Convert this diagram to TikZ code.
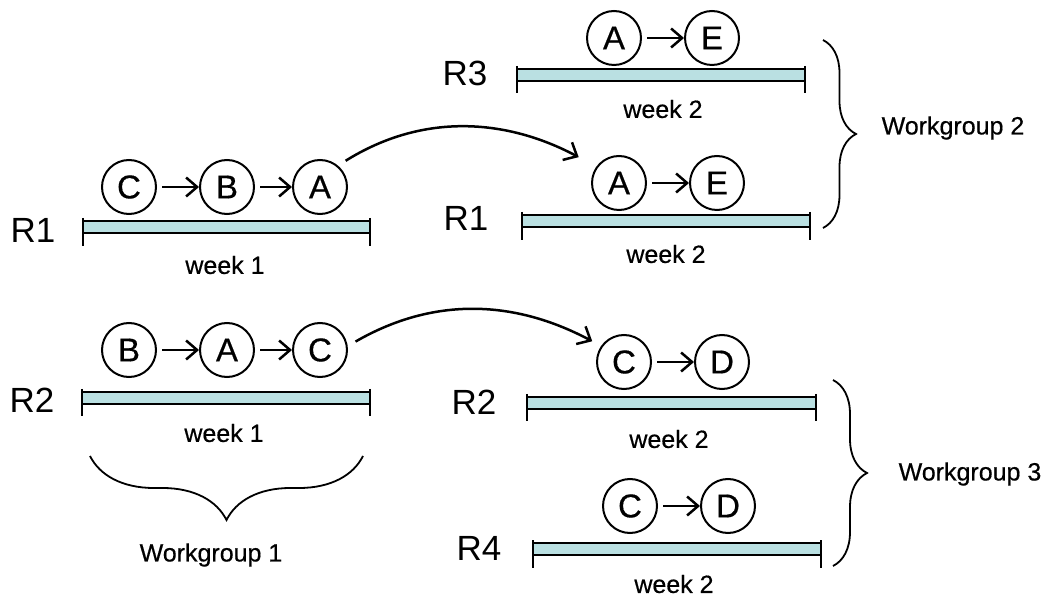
\documentclass[tikz,border=0pt]{standalone}
\usepackage{fontspec}
\setmainfont{Liberation Sans}
\newfontfamily\heavysans{Liberation Sans}[FakeBold=0.5]
\usetikzlibrary{arrows.meta,decorations.pathreplacing}
\definecolor{barblue}{RGB}{186,224,226}
\begin{document}
\begin{tikzpicture}[x=1pt,y=-1pt,
    job/.style={draw,circle,line width=2pt,minimum size=54pt,inner sep=0pt,
      font=\heavysans\fontsize{33}{34}\selectfont},
    res/.style={font=\fontsize{35}{36}\selectfont},
    lbl/.style={font=\heavysans\fontsize{25}{26}\selectfont},
    bar/.style={draw,line width=2.4pt,fill=barblue},
    tick/.style={line width=2.4pt},
    nxt/.style={-{Straight Barb[length=11pt,width=19pt,line width=2.5pt]},line width=2.5pt,shorten <=5pt},
    mv/.style={-{Straight Barb[length=11pt,width=20pt,line width=2.5pt]},line width=2.5pt},
    brc/.style={decorate,decoration={brace,amplitude=#1},line width=1.8pt}]
  \useasboundingbox (0,0) rectangle (1047,601);
  % week 1, R1
  \draw[bar] (83,221) rectangle (370,233);
  \draw[tick] (83,218)--(83,246) (370,218)--(370,246);
  \node[res] (r1l) at (33,230) {R1};
  \node[lbl] (w1a) at (225,265) {week 1};
  \node[job] (l1c) at (129,187) {C};
  \node[job] (l1b) at (227,187) {B};
  \node[job] (l1a) at (320,187) {A};
  \draw[nxt] (l1c)--(l1b);
  \draw[nxt] (l1b)--(l1a);
  % week 1, R2
  \draw[bar] (82,392) rectangle (370,404);
  \draw[tick] (82,389)--(82,416) (370,389)--(370,416);
  \node[res] (r2l) at (32,400) {R2};
  \node[lbl] (w1b) at (224,433) {week 1};
  \node[job] (l2b) at (129,350) {B};
  \node[job] (l2a) at (227,350) {A};
  \node[job] (l2c) at (320,350) {C};
  \draw[nxt] (l2b)--(l2a);
  \draw[nxt] (l2a)--(l2c);
  \draw[brc=64] (363,456)--(90,456);
  \node[lbl] (wg1) at (211,555) {Workgroup 1};
  % week 2, R3
  \draw[bar] (517,69) rectangle (805,81);
  \draw[tick] (517,66)--(517,93) (805,66)--(805,93);
  \node[res] (r3r) at (465,73) {R3};
  \node[lbl] (w2a) at (663,109) {week 2};
  \node[job] (r3a) at (614,38) {A};
  \node[job] (r3e) at (712,38) {E};
  \draw[nxt] (r3a)--(r3e);
  % week 2, R1
  \draw[bar] (522,215) rectangle (810,227);
  \draw[tick] (522,212)--(522,240) (810,212)--(810,240);
  \node[res] (r1r) at (466,218) {R1};
  \node[lbl] (w2b) at (666,254) {week 2};
  \node[job] (r1a) at (619,183) {A};
  \node[job] (r1e) at (717,183) {E};
  \draw[nxt] (r1a)--(r1e);
  \draw[brc=33] (823,40)--(823,228);
  \node[lbl] (wg2) at (953,128) {Workgroup 2};
  % week 2, R2
  \draw[bar] (527,397) rectangle (816,409);
  \draw[tick] (527,394)--(527,421) (816,394)--(816,421);
  \node[res] (r2r) at (474,402) {R2};
  \node[lbl] (w2c) at (669,439) {week 2};
  \node[job] (r2c) at (624,362) {C};
  \node[job] (r2d) at (722,362) {D};
  \draw[nxt] (r2c)--(r2d);
  % week 2, R4
  \draw[bar] (533,543) rectangle (821,555);
  \draw[tick] (533,540)--(533,568) (821,540)--(821,568);
  \node[res] (r4r) at (479,548) {R4};
  \node[lbl] (w2d) at (674,584) {week 2};
  \node[job] (r4c) at (630,506) {C};
  \node[job] (r4d) at (728,506) {D};
  \draw[nxt] (r4c)--(r4d);
  \draw[brc=34] (833,380)--(833,566);
  \node[lbl] (wg3) at (970,474) {Workgroup 3};
  % moves
  \draw[mv,shorten <=9pt,shorten >=20pt] (l1a.50) to[out=32,in=152] (r1a.144);
  \draw[mv,shorten <=9pt,shorten >=10pt] (l2c.8) to[out=30,in=152] (r2c.145);
\end{tikzpicture}
\end{document}
